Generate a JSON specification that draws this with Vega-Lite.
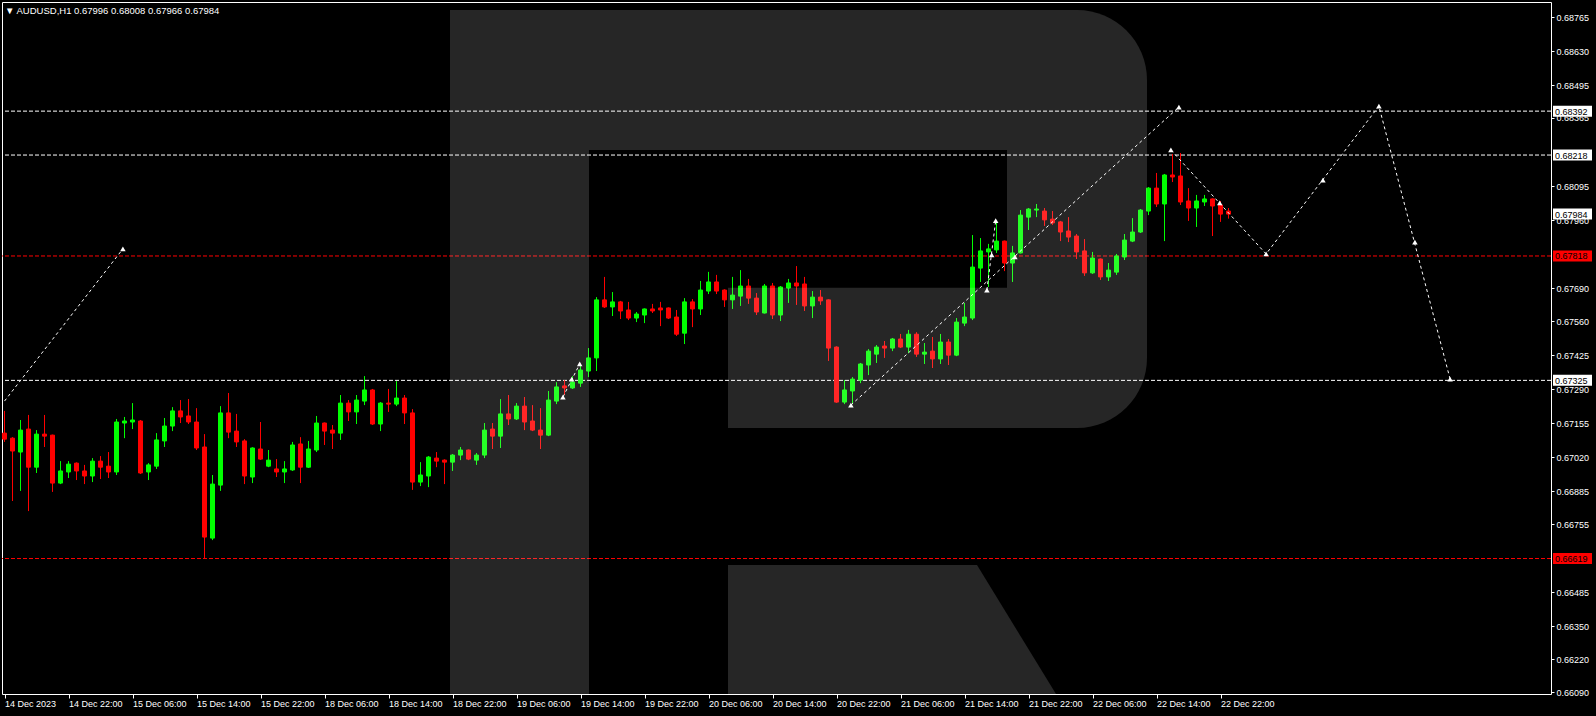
{
  "$schema": "https://vega.github.io/schema/vega-lite/v6.json",
  "width": 1549,
  "height": 692,
  "autosize": {"type": "none"},
  "padding": {"left": 2, "top": 2, "right": 45, "bottom": 22},
  "background": "#000000",
  "title": {
    "text": "▼ AUDUSD,H1  0.67996 0.68008 0.67966 0.67984",
    "anchor": "start",
    "frame": "group",
    "orient": "top",
    "offset": -13,
    "dx": 3,
    "color": "#ffffff",
    "font": "Liberation Sans",
    "fontSize": 9.5,
    "fontWeight": "normal"
  },
  "config": {
    "view": {"stroke": "#ffffff", "strokeWidth": 1},
    "scale": {"continuousPadding": 0},
    "axis": {
      "labelColor": "#ffffff",
      "tickColor": "#ffffff",
      "labelFont": "Liberation Sans",
      "domain": false,
      "grid": false,
      "title": null
    }
  },
  "datasets": {
    "candles": [
      {"i":0,"o":0.67116,"h":0.67204,"l":0.67081,"c":0.67092},
      {"i":1,"o":0.67096,"h":0.67100,"l":0.66847,"c":0.67045},
      {"i":2,"o":0.67041,"h":0.67168,"l":0.66887,"c":0.67128},
      {"i":3,"o":0.67132,"h":0.67188,"l":0.66807,"c":0.66981},
      {"i":4,"o":0.66981,"h":0.67128,"l":0.66958,"c":0.67112},
      {"i":5,"o":0.67112,"h":0.67188,"l":0.67061,"c":0.67104},
      {"i":6,"o":0.67108,"h":0.67110,"l":0.66883,"c":0.66918},
      {"i":7,"o":0.66918,"h":0.67005,"l":0.66914,"c":0.66966},
      {"i":8,"o":0.66962,"h":0.67005,"l":0.66938,"c":0.66993},
      {"i":9,"o":0.66997,"h":0.67000,"l":0.66930,"c":0.66966},
      {"i":10,"o":0.66966,"h":0.66990,"l":0.66914,"c":0.66946},
      {"i":11,"o":0.66946,"h":0.67017,"l":0.66922,"c":0.67005},
      {"i":12,"o":0.67005,"h":0.67025,"l":0.66934,"c":0.66981},
      {"i":13,"o":0.66985,"h":0.67041,"l":0.66938,"c":0.66962},
      {"i":14,"o":0.66962,"h":0.67172,"l":0.66950,"c":0.67160},
      {"i":15,"o":0.67156,"h":0.67180,"l":0.67096,"c":0.67164},
      {"i":16,"o":0.67160,"h":0.67235,"l":0.67132,"c":0.67168},
      {"i":17,"o":0.67164,"h":0.67168,"l":0.66954,"c":0.66958},
      {"i":18,"o":0.66962,"h":0.66997,"l":0.66930,"c":0.66990},
      {"i":19,"o":0.66985,"h":0.67116,"l":0.66974,"c":0.67089},
      {"i":20,"o":0.67085,"h":0.67176,"l":0.67061,"c":0.67144},
      {"i":21,"o":0.67144,"h":0.67219,"l":0.67124,"c":0.67204},
      {"i":22,"o":0.67204,"h":0.67247,"l":0.67156,"c":0.67180},
      {"i":23,"o":0.67184,"h":0.67251,"l":0.67152,"c":0.67160},
      {"i":24,"o":0.67160,"h":0.67215,"l":0.67049,"c":0.67057},
      {"i":25,"o":0.67061,"h":0.67112,"l":0.66619,"c":0.66704},
      {"i":26,"o":0.66700,"h":0.66950,"l":0.66692,"c":0.66914},
      {"i":27,"o":0.66910,"h":0.67223,"l":0.66887,"c":0.67196},
      {"i":28,"o":0.67196,"h":0.67275,"l":0.67096,"c":0.67120},
      {"i":29,"o":0.67124,"h":0.67192,"l":0.67061,"c":0.67081},
      {"i":30,"o":0.67085,"h":0.67092,"l":0.66914,"c":0.66946},
      {"i":31,"o":0.66942,"h":0.67060,"l":0.66918,"c":0.67057},
      {"i":32,"o":0.67053,"h":0.67160,"l":0.67010,"c":0.67013},
      {"i":33,"o":0.66985,"h":0.67049,"l":0.66981,"c":0.67009},
      {"i":34,"o":0.66974,"h":0.67013,"l":0.66942,"c":0.66962},
      {"i":35,"o":0.66962,"h":0.67005,"l":0.66918,"c":0.66974},
      {"i":36,"o":0.66970,"h":0.67081,"l":0.66966,"c":0.67069},
      {"i":37,"o":0.67073,"h":0.67100,"l":0.66918,"c":0.66981},
      {"i":38,"o":0.66981,"h":0.67085,"l":0.66978,"c":0.67053},
      {"i":39,"o":0.67049,"h":0.67184,"l":0.67041,"c":0.67156},
      {"i":40,"o":0.67156,"h":0.67158,"l":0.67069,"c":0.67124},
      {"i":41,"o":0.67128,"h":0.67148,"l":0.67053,"c":0.67116},
      {"i":42,"o":0.67116,"h":0.67267,"l":0.67089,"c":0.67235},
      {"i":43,"o":0.67235,"h":0.67247,"l":0.67164,"c":0.67200},
      {"i":44,"o":0.67200,"h":0.67267,"l":0.67152,"c":0.67247},
      {"i":45,"o":0.67243,"h":0.67342,"l":0.67227,"c":0.67287},
      {"i":46,"o":0.67287,"h":0.67291,"l":0.67148,"c":0.67152},
      {"i":47,"o":0.67152,"h":0.67239,"l":0.67124,"c":0.67235},
      {"i":48,"o":0.67235,"h":0.67291,"l":0.67200,"c":0.67231},
      {"i":49,"o":0.67231,"h":0.67322,"l":0.67223,"c":0.67255},
      {"i":50,"o":0.67255,"h":0.67267,"l":0.67152,"c":0.67196},
      {"i":51,"o":0.67196,"h":0.67211,"l":0.66891,"c":0.66922},
      {"i":52,"o":0.66922,"h":0.67001,"l":0.66906,"c":0.66950},
      {"i":53,"o":0.66946,"h":0.67025,"l":0.66902,"c":0.67021},
      {"i":54,"o":0.67017,"h":0.67041,"l":0.66981,"c":0.67005},
      {"i":55,"o":0.67009,"h":0.67012,"l":0.66914,"c":0.67001},
      {"i":56,"o":0.67001,"h":0.67033,"l":0.66966,"c":0.67029},
      {"i":57,"o":0.67029,"h":0.67061,"l":0.67009,"c":0.67049},
      {"i":58,"o":0.67049,"h":0.67051,"l":0.67009,"c":0.67013},
      {"i":59,"o":0.67009,"h":0.67037,"l":0.66990,"c":0.67029},
      {"i":60,"o":0.67029,"h":0.67156,"l":0.67017,"c":0.67128},
      {"i":61,"o":0.67132,"h":0.67156,"l":0.67053,"c":0.67104},
      {"i":62,"o":0.67104,"h":0.67251,"l":0.67057,"c":0.67192},
      {"i":63,"o":0.67192,"h":0.67267,"l":0.67148,"c":0.67172},
      {"i":64,"o":0.67172,"h":0.67235,"l":0.67168,"c":0.67223},
      {"i":65,"o":0.67223,"h":0.67259,"l":0.67128,"c":0.67160},
      {"i":66,"o":0.67164,"h":0.67227,"l":0.67124,"c":0.67128},
      {"i":67,"o":0.67128,"h":0.67215,"l":0.67053,"c":0.67108},
      {"i":68,"o":0.67108,"h":0.67283,"l":0.67104,"c":0.67247},
      {"i":69,"o":0.67243,"h":0.67318,"l":0.67231,"c":0.67299},
      {"i":70,"o":0.67303,"h":0.67326,"l":0.67267,"c":0.67295},
      {"i":71,"o":0.67295,"h":0.67342,"l":0.67291,"c":0.67318},
      {"i":72,"o":0.67314,"h":0.67382,"l":0.67299,"c":0.67366},
      {"i":73,"o":0.67362,"h":0.67453,"l":0.67338,"c":0.67414},
      {"i":74,"o":0.67414,"h":0.67655,"l":0.67362,"c":0.67644},
      {"i":75,"o":0.67644,"h":0.67735,"l":0.67612,"c":0.67616},
      {"i":76,"o":0.67616,"h":0.67675,"l":0.67580,"c":0.67636},
      {"i":77,"o":0.67636,"h":0.67640,"l":0.67568,"c":0.67600},
      {"i":78,"o":0.67604,"h":0.67636,"l":0.67564,"c":0.67572},
      {"i":79,"o":0.67572,"h":0.67596,"l":0.67556,"c":0.67588},
      {"i":80,"o":0.67584,"h":0.67610,"l":0.67552,"c":0.67608},
      {"i":81,"o":0.67608,"h":0.67628,"l":0.67592,"c":0.67600},
      {"i":82,"o":0.67612,"h":0.67636,"l":0.67540,"c":0.67604},
      {"i":83,"o":0.67612,"h":0.67614,"l":0.67568,"c":0.67572},
      {"i":84,"o":0.67576,"h":0.67604,"l":0.67501,"c":0.67508},
      {"i":85,"o":0.67512,"h":0.67651,"l":0.67469,"c":0.67636},
      {"i":86,"o":0.67636,"h":0.67647,"l":0.67536,"c":0.67608},
      {"i":87,"o":0.67608,"h":0.67719,"l":0.67584,"c":0.67683},
      {"i":88,"o":0.67679,"h":0.67755,"l":0.67667,"c":0.67715},
      {"i":89,"o":0.67715,"h":0.67743,"l":0.67667,"c":0.67679},
      {"i":90,"o":0.67683,"h":0.67686,"l":0.67616,"c":0.67644},
      {"i":91,"o":0.67644,"h":0.67735,"l":0.67608,"c":0.67663},
      {"i":92,"o":0.67659,"h":0.67762,"l":0.67620,"c":0.67699},
      {"i":93,"o":0.67699,"h":0.67727,"l":0.67628,"c":0.67651},
      {"i":94,"o":0.67651,"h":0.67671,"l":0.67584,"c":0.67596},
      {"i":95,"o":0.67592,"h":0.67707,"l":0.67590,"c":0.67699},
      {"i":96,"o":0.67699,"h":0.67711,"l":0.67568,"c":0.67584},
      {"i":97,"o":0.67584,"h":0.67699,"l":0.67560,"c":0.67695},
      {"i":98,"o":0.67691,"h":0.67727,"l":0.67632,"c":0.67711},
      {"i":99,"o":0.67711,"h":0.67778,"l":0.67624,"c":0.67699},
      {"i":100,"o":0.67707,"h":0.67735,"l":0.67600,"c":0.67620},
      {"i":101,"o":0.67620,"h":0.67679,"l":0.67572,"c":0.67655},
      {"i":102,"o":0.67655,"h":0.67683,"l":0.67624,"c":0.67640},
      {"i":103,"o":0.67644,"h":0.67646,"l":0.67402,"c":0.67453},
      {"i":104,"o":0.67457,"h":0.67460,"l":0.67236,"c":0.67239},
      {"i":105,"o":0.67239,"h":0.67326,"l":0.67231,"c":0.67287},
      {"i":106,"o":0.67283,"h":0.67338,"l":0.67231,"c":0.67330},
      {"i":107,"o":0.67326,"h":0.67394,"l":0.67314,"c":0.67390},
      {"i":108,"o":0.67386,"h":0.67449,"l":0.67346,"c":0.67441},
      {"i":109,"o":0.67429,"h":0.67465,"l":0.67394,"c":0.67457},
      {"i":110,"o":0.67461,"h":0.67481,"l":0.67414,"c":0.67453},
      {"i":111,"o":0.67453,"h":0.67493,"l":0.67441,"c":0.67489},
      {"i":112,"o":0.67489,"h":0.67509,"l":0.67453,"c":0.67457},
      {"i":113,"o":0.67457,"h":0.67525,"l":0.67433,"c":0.67508},
      {"i":114,"o":0.67508,"h":0.67516,"l":0.67418,"c":0.67429},
      {"i":115,"o":0.67429,"h":0.67473,"l":0.67390,"c":0.67437},
      {"i":116,"o":0.67441,"h":0.67497,"l":0.67374,"c":0.67410},
      {"i":117,"o":0.67410,"h":0.67509,"l":0.67390,"c":0.67477},
      {"i":118,"o":0.67477,"h":0.67489,"l":0.67386,"c":0.67425},
      {"i":119,"o":0.67425,"h":0.67572,"l":0.67421,"c":0.67556},
      {"i":120,"o":0.67552,"h":0.67632,"l":0.67540,"c":0.67576},
      {"i":121,"o":0.67572,"h":0.67901,"l":0.67564,"c":0.67774},
      {"i":122,"o":0.67770,"h":0.67889,"l":0.67715,"c":0.67838},
      {"i":123,"o":0.67834,"h":0.67866,"l":0.67695,"c":0.67846},
      {"i":124,"o":0.67842,"h":0.67953,"l":0.67830,"c":0.67877},
      {"i":125,"o":0.67877,"h":0.67879,"l":0.67758,"c":0.67790},
      {"i":126,"o":0.67790,"h":0.67858,"l":0.67715,"c":0.67830},
      {"i":127,"o":0.67830,"h":0.68000,"l":0.67828,"c":0.67980},
      {"i":128,"o":0.67972,"h":0.68008,"l":0.67921,"c":0.68004},
      {"i":129,"o":0.68000,"h":0.68024,"l":0.67972,"c":0.68004},
      {"i":130,"o":0.67996,"h":0.68008,"l":0.67937,"c":0.67961},
      {"i":131,"o":0.67964,"h":0.67996,"l":0.67941,"c":0.67949},
      {"i":132,"o":0.67953,"h":0.67957,"l":0.67877,"c":0.67913},
      {"i":133,"o":0.67917,"h":0.67972,"l":0.67873,"c":0.67893},
      {"i":134,"o":0.67897,"h":0.67905,"l":0.67806,"c":0.67834},
      {"i":135,"o":0.67838,"h":0.67885,"l":0.67739,"c":0.67751},
      {"i":136,"o":0.67751,"h":0.67834,"l":0.67747,"c":0.67810},
      {"i":137,"o":0.67806,"h":0.67808,"l":0.67723,"c":0.67735},
      {"i":138,"o":0.67735,"h":0.67790,"l":0.67719,"c":0.67762},
      {"i":139,"o":0.67754,"h":0.67826,"l":0.67743,"c":0.67818},
      {"i":140,"o":0.67814,"h":0.67905,"l":0.67802,"c":0.67881},
      {"i":141,"o":0.67877,"h":0.67968,"l":0.67873,"c":0.67913},
      {"i":142,"o":0.67913,"h":0.68004,"l":0.67909,"c":0.68000},
      {"i":143,"o":0.67996,"h":0.68091,"l":0.67980,"c":0.68087},
      {"i":144,"o":0.68087,"h":0.68147,"l":0.68012,"c":0.68024},
      {"i":145,"o":0.68024,"h":0.68143,"l":0.67877,"c":0.68139},
      {"i":146,"o":0.68139,"h":0.68222,"l":0.68111,"c":0.68131},
      {"i":147,"o":0.68135,"h":0.68226,"l":0.68020,"c":0.68032},
      {"i":148,"o":0.68036,"h":0.68087,"l":0.67957,"c":0.68008},
      {"i":149,"o":0.68008,"h":0.68060,"l":0.67933,"c":0.68036},
      {"i":150,"o":0.68032,"h":0.68060,"l":0.68016,"c":0.68044},
      {"i":151,"o":0.68044,"h":0.68046,"l":0.67897,"c":0.68016},
      {"i":152,"o":0.68020,"h":0.68036,"l":0.67953,"c":0.67984},
      {"i":153,"o":0.67996,"h":0.68008,"l":0.67966,"c":0.67984}
    ],
    "levels": [
      {"p":0.68392,"k":"w"},
      {"p":0.68218,"k":"w"},
      {"p":0.67325,"k":"w"},
      {"p":0.67818,"k":"r"},
      {"p":0.66619,"k":"r"}
    ],
    "tags": [
      {"p":0.68392,"k":"w"},
      {"p":0.68218,"k":"w"},
      {"p":0.67984,"k":"w"},
      {"p":0.67325,"k":"w"},
      {"p":0.67818,"k":"r"},
      {"p":0.66619,"k":"r"}
    ],
    "forecast": [
      {"s":"A","n":0,"i":0,"p":0.67243},
      {"s":"A","n":1,"i":14.8,"p":0.67846},
      {"s":"B","n":0,"i":69.8,"p":0.67259},
      {"s":"B","n":1,"i":71.9,"p":0.67390},
      {"s":"C","n":0,"i":105.8,"p":0.67227},
      {"s":"C","n":1,"i":146.8,"p":0.68408},
      {"s":"D","n":0,"i":122.8,"p":0.67683},
      {"s":"D","n":1,"i":123.9,"p":0.67958},
      {"s":"E","n":0,"i":145.8,"p":0.68238},
      {"s":"E","n":1,"i":157.7,"p":0.67826},
      {"s":"E","n":2,"i":171.8,"p":0.68412},
      {"s":"E","n":3,"i":180.7,"p":0.67330}
    ],
    "markers": [
      {"i":14.8,"p":0.67846},
      {"i":69.8,"p":0.67259},
      {"i":70.9,"p":0.67330},
      {"i":71.9,"p":0.67390},
      {"i":105.8,"p":0.67227},
      {"i":126.3,"p":0.67814},
      {"i":146.8,"p":0.68408},
      {"i":122.8,"p":0.67683},
      {"i":123.4,"p":0.67822},
      {"i":123.9,"p":0.67958},
      {"i":145.8,"p":0.68238},
      {"i":151.9,"p":0.68028},
      {"i":157.7,"p":0.67826},
      {"i":164.8,"p":0.68119},
      {"i":171.8,"p":0.68412},
      {"i":176.3,"p":0.67873},
      {"i":180.7,"p":0.67330}
    ],
    "logo": [
      {"part":"stem","x1":55.6875,"x2":73.0625,"p1":0.68793,"p2":0.660821},
      {"part":"top","x1":73.0625,"x2":125.3125,"p1":0.68793,"p2":0.68238},
      {"part":"lower","x1":90.4375,"x2":125.3125,"p1":0.67692,"p2":0.67136}
    ],
    "logoRight": [
      {"part":"bowl","x1":125.3125,"x2":142.8125,"p1":0.68793,"p2":0.67136}
    ],
    "logoLeg": [
      {"x":90.4375,"top":0.665933,"bottom":0.660821},
      {"x":121.5625,"top":0.665933,"bottom":0.660821},
      {"x":131.4375,"top":0.660821,"bottom":0.660821}
    ]
  },
  "layer": [
    {
      "data": {"name": "levels"},
      "mark": {"type": "rule", "strokeDash": [4, 2], "strokeWidth": 1},
      "encoding": {
        "y": {"field": "p", "type": "quantitative", "scale": {"domain": [0.660821, 0.688245], "nice": false, "zero": false, "padding": 0},
          "axis": {"orient": "right", "title": null, "values": [0.68765,0.68630,0.68495,0.68365,0.68095,0.67960,0.67690,0.67560,0.67425,0.67290,0.67155,0.67020,0.66885,0.66755,0.66485,0.66350,0.66220,0.66090], "format": ".5f", "labelFontSize": 9, "labelPadding": 2, "tickSize": 3, "labelOverlap": false, "labelFlush": false}},
        "color": {"field": "k", "type": "nominal", "scale": {"domain": ["w", "r"], "range": ["#ffffff", "#ff0000"]}, "legend": null}
      }
    },
    {
      "data": {"name": "candles"},
      "mark": {"type": "rule", "strokeWidth": 1},
      "encoding": {
        "x": {"field": "i", "type": "quantitative", "scale": {"domain": [-0.3125, 193.3125], "nice": false, "zero": false, "padding": 0},
          "axis": {"orient": "bottom", "title": null, "values": [0,8,16,24,32,40,48,56,64,72,80,88,96,104,112,120,128,136,144,152], "labelExpr": "['14 Dec 2023','14 Dec 22:00','15 Dec 06:00','15 Dec 14:00','15 Dec 22:00','18 Dec 06:00','18 Dec 14:00','18 Dec 22:00','19 Dec 06:00','19 Dec 14:00','19 Dec 22:00','20 Dec 06:00','20 Dec 14:00','20 Dec 22:00','21 Dec 06:00','21 Dec 14:00','21 Dec 22:00','22 Dec 06:00','22 Dec 14:00','22 Dec 22:00'][round(datum.value/8)]", "labelAlign": "left", "labelBaseline": "top", "labelFontSize": 9, "labelPadding": 1, "tickSize": 4, "labelFlush": false, "labelOverlap": false}},
        "y": {"field": "l", "type": "quantitative", "scale": {"domain": [0.660821, 0.688245], "nice": false, "zero": false, "padding": 0},
          "axis": {"orient": "right", "title": null, "values": [0.68765,0.68630,0.68495,0.68365,0.68095,0.67960,0.67690,0.67560,0.67425,0.67290,0.67155,0.67020,0.66885,0.66755,0.66485,0.66350,0.66220,0.66090], "format": ".5f", "labelFontSize": 9, "labelPadding": 2, "tickSize": 3, "labelOverlap": false, "labelFlush": false}},
        "y2": {"field": "h"},
        "color": {"condition": {"test": "datum.c >= datum.o", "value": "#00ff00"}, "value": "#ff0000"}
      }
    },
    {
      "data": {"name": "candles"},
      "mark": {"type": "bar", "width": 4, "strokeWidth": 1},
      "encoding": {
        "x": {"field": "i", "type": "quantitative", "scale": {"domain": [-0.3125, 193.3125], "nice": false, "zero": false, "padding": 0},
          "axis": {"orient": "bottom", "title": null, "values": [0,8,16,24,32,40,48,56,64,72,80,88,96,104,112,120,128,136,144,152], "labelExpr": "['14 Dec 2023','14 Dec 22:00','15 Dec 06:00','15 Dec 14:00','15 Dec 22:00','18 Dec 06:00','18 Dec 14:00','18 Dec 22:00','19 Dec 06:00','19 Dec 14:00','19 Dec 22:00','20 Dec 06:00','20 Dec 14:00','20 Dec 22:00','21 Dec 06:00','21 Dec 14:00','21 Dec 22:00','22 Dec 06:00','22 Dec 14:00','22 Dec 22:00'][round(datum.value/8)]", "labelAlign": "left", "labelBaseline": "top", "labelFontSize": 9, "labelPadding": 1, "tickSize": 4, "labelFlush": false, "labelOverlap": false}},
        "y": {"field": "o", "type": "quantitative", "scale": {"domain": [0.660821, 0.688245], "nice": false, "zero": false, "padding": 0},
          "axis": {"orient": "right", "title": null, "values": [0.68765,0.68630,0.68495,0.68365,0.68095,0.67960,0.67690,0.67560,0.67425,0.67290,0.67155,0.67020,0.66885,0.66755,0.66485,0.66350,0.66220,0.66090], "format": ".5f", "labelFontSize": 9, "labelPadding": 2, "tickSize": 3, "labelOverlap": false, "labelFlush": false}},
        "y2": {"field": "c"},
        "color": {"condition": {"test": "datum.c >= datum.o", "value": "#00ff00"}, "value": "#ff0000"},
        "stroke": {"condition": {"test": "datum.c >= datum.o", "value": "#00ff00"}, "value": "#ff0000"}
      }
    },
    {
      "data": {"name": "forecast"},
      "mark": {"type": "line", "strokeDash": [3, 3], "strokeWidth": 1, "color": "#ffffff"},
      "encoding": {
        "x": {"field": "i", "type": "quantitative", "scale": {"domain": [-0.3125, 193.3125], "nice": false, "zero": false, "padding": 0},
          "axis": {"orient": "bottom", "title": null, "values": [0,8,16,24,32,40,48,56,64,72,80,88,96,104,112,120,128,136,144,152], "labelExpr": "['14 Dec 2023','14 Dec 22:00','15 Dec 06:00','15 Dec 14:00','15 Dec 22:00','18 Dec 06:00','18 Dec 14:00','18 Dec 22:00','19 Dec 06:00','19 Dec 14:00','19 Dec 22:00','20 Dec 06:00','20 Dec 14:00','20 Dec 22:00','21 Dec 06:00','21 Dec 14:00','21 Dec 22:00','22 Dec 06:00','22 Dec 14:00','22 Dec 22:00'][round(datum.value/8)]", "labelAlign": "left", "labelBaseline": "top", "labelFontSize": 9, "labelPadding": 1, "tickSize": 4, "labelFlush": false, "labelOverlap": false}},
        "y": {"field": "p", "type": "quantitative", "scale": {"domain": [0.660821, 0.688245], "nice": false, "zero": false, "padding": 0},
          "axis": {"orient": "right", "title": null, "values": [0.68765,0.68630,0.68495,0.68365,0.68095,0.67960,0.67690,0.67560,0.67425,0.67290,0.67155,0.67020,0.66885,0.66755,0.66485,0.66350,0.66220,0.66090], "format": ".5f", "labelFontSize": 9, "labelPadding": 2, "tickSize": 3, "labelOverlap": false, "labelFlush": false}},
        "detail": {"field": "s", "type": "nominal"},
        "order": {"field": "n", "type": "quantitative"}
      }
    },
    {
      "data": {"name": "markers"},
      "mark": {"type": "point", "shape": "triangle-up", "size": 30, "filled": true, "opacity": 1, "color": "#ffffff"},
      "encoding": {
        "x": {"field": "i", "type": "quantitative", "scale": {"domain": [-0.3125, 193.3125], "nice": false, "zero": false, "padding": 0},
          "axis": {"orient": "bottom", "title": null, "values": [0,8,16,24,32,40,48,56,64,72,80,88,96,104,112,120,128,136,144,152], "labelExpr": "['14 Dec 2023','14 Dec 22:00','15 Dec 06:00','15 Dec 14:00','15 Dec 22:00','18 Dec 06:00','18 Dec 14:00','18 Dec 22:00','19 Dec 06:00','19 Dec 14:00','19 Dec 22:00','20 Dec 06:00','20 Dec 14:00','20 Dec 22:00','21 Dec 06:00','21 Dec 14:00','21 Dec 22:00','22 Dec 06:00','22 Dec 14:00','22 Dec 22:00'][round(datum.value/8)]", "labelAlign": "left", "labelBaseline": "top", "labelFontSize": 9, "labelPadding": 1, "tickSize": 4, "labelFlush": false, "labelOverlap": false}},
        "y": {"field": "p", "type": "quantitative", "scale": {"domain": [0.660821, 0.688245], "nice": false, "zero": false, "padding": 0},
          "axis": {"orient": "right", "title": null, "values": [0.68765,0.68630,0.68495,0.68365,0.68095,0.67960,0.67690,0.67560,0.67425,0.67290,0.67155,0.67020,0.66885,0.66755,0.66485,0.66350,0.66220,0.66090], "format": ".5f", "labelFontSize": 9, "labelPadding": 2, "tickSize": 3, "labelOverlap": false, "labelFlush": false}}
      }
    },
    {
      "data": {"name": "logo"},
      "mark": {"type": "rect", "color": "#ffffff", "fillOpacity": 0.149, "strokeWidth": 0},
      "encoding": {
        "x": {"field": "x1", "type": "quantitative", "scale": {"domain": [-0.3125, 193.3125], "nice": false, "zero": false, "padding": 0},
          "axis": {"orient": "bottom", "title": null, "values": [0,8,16,24,32,40,48,56,64,72,80,88,96,104,112,120,128,136,144,152], "labelExpr": "['14 Dec 2023','14 Dec 22:00','15 Dec 06:00','15 Dec 14:00','15 Dec 22:00','18 Dec 06:00','18 Dec 14:00','18 Dec 22:00','19 Dec 06:00','19 Dec 14:00','19 Dec 22:00','20 Dec 06:00','20 Dec 14:00','20 Dec 22:00','21 Dec 06:00','21 Dec 14:00','21 Dec 22:00','22 Dec 06:00','22 Dec 14:00','22 Dec 22:00'][round(datum.value/8)]", "labelAlign": "left", "labelBaseline": "top", "labelFontSize": 9, "labelPadding": 1, "tickSize": 4, "labelFlush": false, "labelOverlap": false}},
        "x2": {"field": "x2"},
        "y": {"field": "p1", "type": "quantitative", "scale": {"domain": [0.660821, 0.688245], "nice": false, "zero": false, "padding": 0},
          "axis": {"orient": "right", "title": null, "values": [0.68765,0.68630,0.68495,0.68365,0.68095,0.67960,0.67690,0.67560,0.67425,0.67290,0.67155,0.67020,0.66885,0.66755,0.66485,0.66350,0.66220,0.66090], "format": ".5f", "labelFontSize": 9, "labelPadding": 2, "tickSize": 3, "labelOverlap": false, "labelFlush": false}},
        "y2": {"field": "p2"}
      }
    },
    {
      "data": {"name": "logoRight"},
      "mark": {"type": "rect", "color": "#ffffff", "fillOpacity": 0.149, "strokeWidth": 0, "cornerRadiusTopRight": 135, "cornerRadiusBottomRight": 135},
      "encoding": {
        "x": {"field": "x1", "type": "quantitative", "scale": {"domain": [-0.3125, 193.3125], "nice": false, "zero": false, "padding": 0},
          "axis": {"orient": "bottom", "title": null, "values": [0,8,16,24,32,40,48,56,64,72,80,88,96,104,112,120,128,136,144,152], "labelExpr": "['14 Dec 2023','14 Dec 22:00','15 Dec 06:00','15 Dec 14:00','15 Dec 22:00','18 Dec 06:00','18 Dec 14:00','18 Dec 22:00','19 Dec 06:00','19 Dec 14:00','19 Dec 22:00','20 Dec 06:00','20 Dec 14:00','20 Dec 22:00','21 Dec 06:00','21 Dec 14:00','21 Dec 22:00','22 Dec 06:00','22 Dec 14:00','22 Dec 22:00'][round(datum.value/8)]", "labelAlign": "left", "labelBaseline": "top", "labelFontSize": 9, "labelPadding": 1, "tickSize": 4, "labelFlush": false, "labelOverlap": false}},
        "x2": {"field": "x2"},
        "y": {"field": "p1", "type": "quantitative", "scale": {"domain": [0.660821, 0.688245], "nice": false, "zero": false, "padding": 0},
          "axis": {"orient": "right", "title": null, "values": [0.68765,0.68630,0.68495,0.68365,0.68095,0.67960,0.67690,0.67560,0.67425,0.67290,0.67155,0.67020,0.66885,0.66755,0.66485,0.66350,0.66220,0.66090], "format": ".5f", "labelFontSize": 9, "labelPadding": 2, "tickSize": 3, "labelOverlap": false, "labelFlush": false}},
        "y2": {"field": "p2"}
      }
    },
    {
      "data": {"name": "logoLeg"},
      "mark": {"type": "area", "color": "#ffffff", "fillOpacity": 0.149, "strokeWidth": 0},
      "encoding": {
        "x": {"field": "x", "type": "quantitative", "scale": {"domain": [-0.3125, 193.3125], "nice": false, "zero": false, "padding": 0},
          "axis": {"orient": "bottom", "title": null, "values": [0,8,16,24,32,40,48,56,64,72,80,88,96,104,112,120,128,136,144,152], "labelExpr": "['14 Dec 2023','14 Dec 22:00','15 Dec 06:00','15 Dec 14:00','15 Dec 22:00','18 Dec 06:00','18 Dec 14:00','18 Dec 22:00','19 Dec 06:00','19 Dec 14:00','19 Dec 22:00','20 Dec 06:00','20 Dec 14:00','20 Dec 22:00','21 Dec 06:00','21 Dec 14:00','21 Dec 22:00','22 Dec 06:00','22 Dec 14:00','22 Dec 22:00'][round(datum.value/8)]", "labelAlign": "left", "labelBaseline": "top", "labelFontSize": 9, "labelPadding": 1, "tickSize": 4, "labelFlush": false, "labelOverlap": false}},
        "y": {"field": "top", "type": "quantitative", "scale": {"domain": [0.660821, 0.688245], "nice": false, "zero": false, "padding": 0},
          "axis": {"orient": "right", "title": null, "values": [0.68765,0.68630,0.68495,0.68365,0.68095,0.67960,0.67690,0.67560,0.67425,0.67290,0.67155,0.67020,0.66885,0.66755,0.66485,0.66350,0.66220,0.66090], "format": ".5f", "labelFontSize": 9, "labelPadding": 2, "tickSize": 3, "labelOverlap": false, "labelFlush": false}},
        "y2": {"field": "bottom"}
      }
    },
    {
      "data": {"name": "tags"},
      "mark": {"type": "tick", "orient": "horizontal", "size": 39, "thickness": 11, "opacity": 1, "filled": true},
      "encoding": {
        "x": {"datum": 196.0, "type": "quantitative", "scale": {"domain": [-0.3125, 193.3125], "nice": false, "zero": false, "padding": 0},
          "axis": {"orient": "bottom", "title": null, "values": [0,8,16,24,32,40,48,56,64,72,80,88,96,104,112,120,128,136,144,152], "labelExpr": "['14 Dec 2023','14 Dec 22:00','15 Dec 06:00','15 Dec 14:00','15 Dec 22:00','18 Dec 06:00','18 Dec 14:00','18 Dec 22:00','19 Dec 06:00','19 Dec 14:00','19 Dec 22:00','20 Dec 06:00','20 Dec 14:00','20 Dec 22:00','21 Dec 06:00','21 Dec 14:00','21 Dec 22:00','22 Dec 06:00','22 Dec 14:00','22 Dec 22:00'][round(datum.value/8)]", "labelAlign": "left", "labelBaseline": "top", "labelFontSize": 9, "labelPadding": 1, "tickSize": 4, "labelFlush": false, "labelOverlap": false}},
        "y": {"field": "p", "type": "quantitative", "scale": {"domain": [0.660821, 0.688245], "nice": false, "zero": false, "padding": 0},
          "axis": {"orient": "right", "title": null, "values": [0.68765,0.68630,0.68495,0.68365,0.68095,0.67960,0.67690,0.67560,0.67425,0.67290,0.67155,0.67020,0.66885,0.66755,0.66485,0.66350,0.66220,0.66090], "format": ".5f", "labelFontSize": 9, "labelPadding": 2, "tickSize": 3, "labelOverlap": false, "labelFlush": false}},
        "color": {"field": "k", "type": "nominal", "scale": {"domain": ["w", "r"], "range": ["#ffffff", "#ff0000"]}, "legend": null}
      }
    },
    {
      "data": {"name": "tags"},
      "mark": {"type": "text", "align": "left", "baseline": "middle", "font": "Liberation Sans", "fontSize": 9, "color": "#000000", "dy": 0.5},
      "encoding": {
        "x": {"datum": 193.8125, "type": "quantitative", "scale": {"domain": [-0.3125, 193.3125], "nice": false, "zero": false, "padding": 0},
          "axis": {"orient": "bottom", "title": null, "values": [0,8,16,24,32,40,48,56,64,72,80,88,96,104,112,120,128,136,144,152], "labelExpr": "['14 Dec 2023','14 Dec 22:00','15 Dec 06:00','15 Dec 14:00','15 Dec 22:00','18 Dec 06:00','18 Dec 14:00','18 Dec 22:00','19 Dec 06:00','19 Dec 14:00','19 Dec 22:00','20 Dec 06:00','20 Dec 14:00','20 Dec 22:00','21 Dec 06:00','21 Dec 14:00','21 Dec 22:00','22 Dec 06:00','22 Dec 14:00','22 Dec 22:00'][round(datum.value/8)]", "labelAlign": "left", "labelBaseline": "top", "labelFontSize": 9, "labelPadding": 1, "tickSize": 4, "labelFlush": false, "labelOverlap": false}},
        "y": {"field": "p", "type": "quantitative", "scale": {"domain": [0.660821, 0.688245], "nice": false, "zero": false, "padding": 0},
          "axis": {"orient": "right", "title": null, "values": [0.68765,0.68630,0.68495,0.68365,0.68095,0.67960,0.67690,0.67560,0.67425,0.67290,0.67155,0.67020,0.66885,0.66755,0.66485,0.66350,0.66220,0.66090], "format": ".5f", "labelFontSize": 9, "labelPadding": 2, "tickSize": 3, "labelOverlap": false, "labelFlush": false}},
        "text": {"field": "p", "type": "quantitative", "format": ".5f"}
      }
    }
  ]
}
